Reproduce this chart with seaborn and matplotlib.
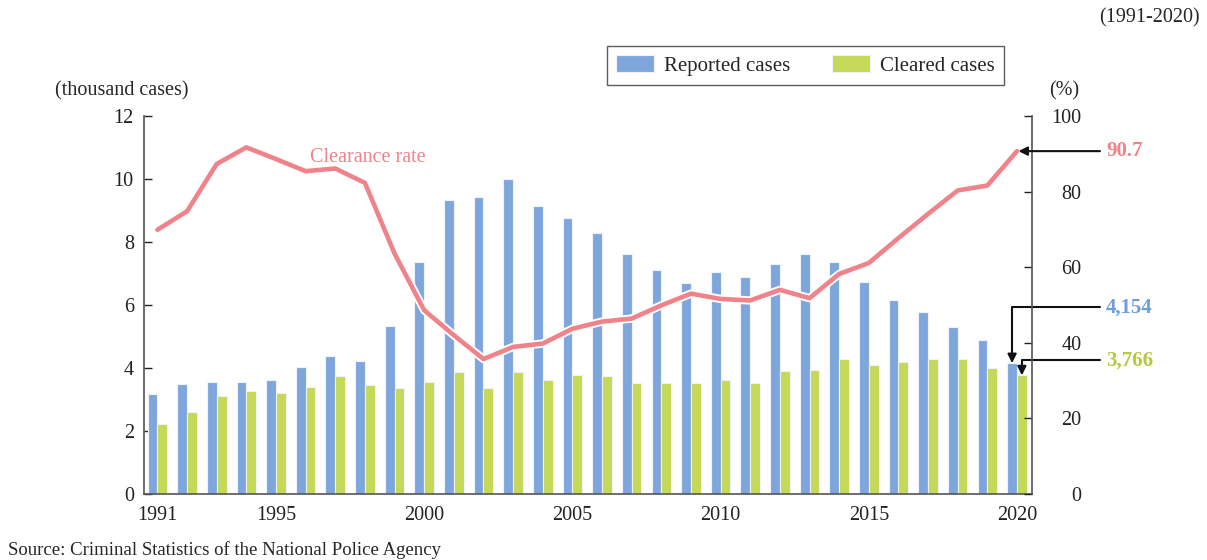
import numpy as np
import pandas as pd
import matplotlib
matplotlib.use('Agg')
import matplotlib.pyplot as plt
import matplotlib.patheffects as pe
import seaborn as sns

# values
years = list(range(1991, 2021))
reported = [3.16, 3.48, 3.57, 3.57, 3.62, 4.02, 4.37, 4.23, 5.32, 7.38,
            9.33, 9.44, 10.01, 9.15, 8.75, 8.30, 7.63, 7.11, 6.69, 7.04,
            6.89, 7.29, 7.63, 7.37, 6.74, 6.17, 5.79, 5.31, 4.88, 4.154]
cleared = [2.22, 2.60, 3.10, 3.26, 3.22, 3.41, 3.76, 3.47, 3.36, 3.57,
           3.86, 3.35, 3.87, 3.63, 3.77, 3.75, 3.51, 3.53, 3.53, 3.62,
           3.53, 3.91, 3.95, 4.27, 4.11, 4.18, 4.30, 4.27, 3.99, 3.766]
clearance_rate = [69.9, 74.8, 87.3, 91.7, 88.6, 85.4, 86.1, 82.3, 63.6, 48.6,
                  42.0, 35.7, 38.9, 39.8, 43.7, 45.6, 46.4, 49.9, 53.0, 51.6,
                  51.2, 54.0, 51.8, 58.2, 61.1, 67.7, 74.1, 80.3, 81.6, 90.7]
tick_years = [1991, 1995, 2000, 2005, 2010, 2015, 2020]
series_names = ['Reported cases', 'Cleared cases']

BLUE = '#7fa6dc'
GREEN = '#c6d857'
PINK = '#f0828a'
BLUE_TXT = '#6c9fda'
GREEN_TXT = '#b5c93a'
FS = 14.5

sns.set_style('white')
plt.rcParams['font.family'] = ['Liberation Serif', 'DejaVu Serif']
plt.rcParams['font.size'] = FS

bars = pd.DataFrame({
    'year': years * 2,
    'cases': reported + cleared,
    'series': [series_names[0]] * len(years) + [series_names[1]] * len(years),
})
rate = pd.DataFrame({'pos': np.arange(len(years)), 'rate': clearance_rate})

fig = plt.figure(figsize=(12.07, 5.60), dpi=100)
ax = fig.add_axes([0.1189, 0.1179, 0.7357, 0.675])

sns.barplot(data=bars, x='year', y='cases', hue='series', order=years,
            palette={series_names[0]: BLUE, series_names[1]: GREEN},
            width=0.66, edgecolor='#eef3fb', linewidth=0.8, saturation=1,
            ax=ax)
handles, labels = ax.get_legend_handles_labels()
ax.get_legend().remove()

ax.set_xlim(-0.47, 29.49)
ax.set_ylim(0, 12)
ax.set_yticks(range(0, 13, 2))
ax.set_xticks([years.index(y) for y in tick_years])
ax.set_xticklabels([str(y) for y in tick_years])
ax.set_xlabel('')
ax.set_ylabel('')
ax.tick_params(axis='y', direction='in', length=6, width=1, pad=7, colors='#222222', labelsize=FS)
ax.tick_params(axis='x', length=0, pad=9, labelsize=FS, colors='#222222')
for s in ['top', 'right']:
    ax.spines[s].set_visible(False)
for s in ['left', 'bottom']:
    ax.spines[s].set_color('#555555')
    ax.spines[s].set_linewidth(1.2)

ax2 = ax.twinx()
sns.lineplot(data=rate, x='pos', y='rate', color=PINK, linewidth=3.3, ax=ax2,
             path_effects=[pe.Stroke(linewidth=6, foreground='white'), pe.Normal()])
ax2.set_ylim(0, 100)
ax2.set_yticks(range(0, 101, 20))
ax2.set_ylabel('')
ax2.set_xlabel('')
ax2.tick_params(axis='y', direction='in', length=6, width=1, pad=36, colors='#222222', labelsize=FS)
for lab in ax2.get_yticklabels():
    lab.set_horizontalalignment('right')
ax2.spines['right'].set_color('#555555')
ax2.spines['right'].set_linewidth(1.2)
for s in ['top', 'left', 'bottom']:
    ax2.spines[s].set_visible(False)

ax2.text(5.15, 89.0, 'Clearance rate', color=PINK, fontsize=FS, ha='left', va='center')

# end-of-series callouts
n = len(years) - 1
arrow = dict(arrowstyle='-|>', color='#111111', lw=1.5, mutation_scale=13, shrinkA=0, shrinkB=0)
ax2.annotate('', xy=(n + 0.05, clearance_rate[-1]), xytext=(31.8, clearance_rate[-1]),
             arrowprops=arrow, annotation_clip=False)
ax2.text(32.0, clearance_rate[-1], f'{clearance_rate[-1]:.1f}', color=PINK, fontweight='bold',
         fontsize=15, ha='left', va='center')

arrow_elbow = dict(arrow, connectionstyle='angle,angleA=0,angleB=90,rad=0')
ax.annotate('', xy=(n - 0.165, reported[-1]), xytext=(31.8, 5.93),
            arrowprops=arrow_elbow, annotation_clip=False)
ax.text(32.0, 5.93, f'{reported[-1] * 1000:,.0f}', color=BLUE_TXT, fontweight='bold',
        fontsize=15, ha='left', va='center')
ax.annotate('', xy=(n + 0.165, cleared[-1]), xytext=(31.8, 4.25),
            arrowprops=arrow_elbow, annotation_clip=False)
ax.text(32.0, 4.25, f'{cleared[-1] * 1000:,.0f}', color=GREEN_TXT, fontweight='bold',
        fontsize=15, ha='left', va='center')

leg = fig.legend(handles, labels, loc='upper left', bbox_to_anchor=(0.503, 0.918), ncol=2,
                 frameon=True, fancybox=False, edgecolor='#333333', fontsize=15,
                 handlelength=1.8, handleheight=0.85, columnspacing=2.0, handletextpad=0.5,
                 borderpad=0.45, borderaxespad=0)
leg.get_frame().set_linewidth(1.0)

fig.text(0.994, 0.968, '(1991-2020)', ha='right', va='center', fontsize=FS)
fig.text(0.0455, 0.838, '(thousand cases)', ha='left', va='center', fontsize=FS)
fig.text(0.882, 0.838, '(%)', ha='center', va='center', fontsize=FS)
fig.text(0.007, 0.018, 'Source: Criminal Statistics of the National Police Agency', ha='left',
         va='center', fontsize=13.5)

fig.savefig('out.png', dpi=100)
